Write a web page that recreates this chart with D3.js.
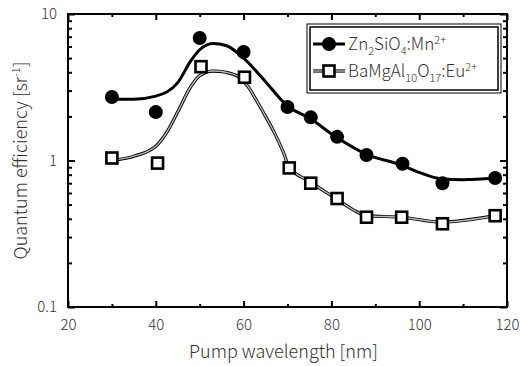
<!DOCTYPE html>
<html>
<head>
<meta charset="utf-8">
<script src="https://cdn.jsdelivr.net/npm/d3@7"></script>
<style>
  body { margin: 0; background: #fff; }
  text { font-family: "Noto Sans CJK JP", "DejaVu Sans", sans-serif; font-weight: 300; fill: #333; }
</style>
</head>
<body>
<div id="chart"></div>
<script>
// data
var znX = [30, 40, 50, 60, 70, 75.3, 81.3, 88, 96.2, 105.3, 117.3];
var znY = [2.71, 2.14, 6.86, 5.5, 2.32, 1.97, 1.45, 1.09, 0.95, 0.70, 0.76];
var baX = [30, 40.4, 50.3, 60.2, 70.4, 75.3, 81.3, 88, 96, 105.3, 117.3];
var baY = [1.04, 0.96, 4.37, 3.70, 0.89, 0.70, 0.55, 0.41, 0.41, 0.37, 0.42];

// fitted curves as drawn in the figure
var znFitX = [30, 35, 40, 45, 48, 50, 53, 56, 60, 65, 70, 75, 81, 88, 96, 100, 105, 110, 117.3];
var znFitY = [2.62, 2.62, 2.75, 3.4, 4.8, 5.7, 6.3, 6.1, 5.0, 3.45, 2.35, 1.95, 1.45, 1.1, 0.93, 0.83, 0.75, 0.74, 0.76];
var baFitX = [30, 35, 40, 43, 45, 48, 50, 53, 56, 59, 61, 63, 65, 67, 69, 70.4, 75, 81, 85, 88, 96, 105, 117.3];
var baFitY = [1.0, 1.07, 1.25, 1.65, 2.15, 3.2, 3.8, 4.08, 4.0, 3.7, 3.2, 2.55, 2.0, 1.55, 1.15, 0.9, 0.72, 0.55, 0.46, 0.42, 0.41, 0.38, 0.42];

var xTicks = [20, 40, 60, 80, 100, 120];
var xMinor = [30, 50, 70, 90, 110];
var yTicks = [0.1, 1, 10];

var svgWidth = 520, svgHeight = 366;
var margin = { top: 14, right: 13, bottom: 59, left: 68 };
var width = svgWidth - margin.left - margin.right;
var height = svgHeight - margin.top - margin.bottom;

var svg = d3.select("#chart").append("svg")
    .attr("width", svgWidth)
    .attr("height", svgHeight);

var g = svg.append("g")
    .attr("transform", `translate(${margin.left}, ${margin.top})`);

var x = d3.scaleLinear().domain([20, 120]).range([0, width]);
var y = d3.scaleLog().domain([0.1, 10]).range([height, 0]);

// minor log ticks
var yMinor = [];
[0.1, 1].forEach(function (d) {
    for (var k = 2; k <= 9; k++) yMinor.push(d * k);
});

function styleAxis(sel) {
    sel.select(".domain").remove();
    sel.selectAll("line").attr("stroke", "#000").attr("stroke-width", 2);
}

// bottom / top
g.append("g").attr("transform", `translate(0, ${height})`)
    .call(d3.axisBottom(x).tickValues(xTicks).tickSize(-6).tickPadding(12).tickFormat(d3.format("d")))
    .call(styleAxis)
    .selectAll("text").attr("font-size", 15).attr("fill", "#444");
g.append("g").attr("transform", `translate(0, ${height})`)
    .call(d3.axisBottom(x).tickValues(xMinor).tickSize(-3).tickFormat(""))
    .call(styleAxis);
g.append("g")
    .call(d3.axisTop(x).tickValues(xTicks).tickSize(-6).tickFormat(""))
    .call(styleAxis);
g.append("g")
    .call(d3.axisTop(x).tickValues(xMinor).tickSize(-3).tickFormat(""))
    .call(styleAxis);

// left / right
g.append("g")
    .call(d3.axisLeft(y).tickValues(yTicks).tickSize(-7).tickPadding(11).tickFormat(d => d === 0.1 ? "0.1" : d3.format("d")(d)))
    .call(styleAxis)
    .selectAll("text").attr("font-size", 15).attr("fill", "#444");
g.append("g")
    .call(d3.axisLeft(y).tickValues(yMinor).tickSize(-4).tickFormat(""))
    .call(styleAxis);
g.append("g").attr("transform", `translate(${width}, 0)`)
    .call(d3.axisRight(y).tickValues(yTicks).tickSize(-7).tickFormat(""))
    .call(styleAxis);
g.append("g").attr("transform", `translate(${width}, 0)`)
    .call(d3.axisRight(y).tickValues(yMinor).tickSize(-4).tickFormat(""))
    .call(styleAxis);

// frame
g.append("rect")
    .attr("width", width).attr("height", height)
    .attr("fill", "none").attr("stroke", "#000").attr("stroke-width", 2);

// fit curves
var line = d3.line()
    .x(d => x(d[0]))
    .y(d => y(d[1]))
    .curve(d3.curveMonotoneX);

var znFit = znFitX.map((d, i) => [d, znFitY[i]]);
var baFit = baFitX.map((d, i) => [d, baFitY[i]]);

g.append("path").datum(baFit)
    .attr("d", line).attr("fill", "none")
    .attr("stroke", "#000").attr("stroke-width", 3.2);
g.append("path").datum(baFit)
    .attr("d", line).attr("fill", "none")
    .attr("stroke", "#bbb").attr("stroke-width", 1.4);

g.append("path").datum(znFit)
    .attr("d", line).attr("fill", "none")
    .attr("stroke", "#000").attr("stroke-width", 3);

// markers
g.selectAll(".zn").data(znX).enter().append("circle")
    .attr("cx", d => x(d))
    .attr("cy", (d, i) => y(znY[i]))
    .attr("r", 7)
    .attr("fill", "#000");

g.selectAll(".ba").data(baX).enter().append("rect")
    .attr("x", d => x(d) - 5.5)
    .attr("y", (d, i) => y(baY[i]) - 5.5)
    .attr("width", 11).attr("height", 11)
    .attr("fill", "#fff")
    .attr("stroke", "#000").attr("stroke-width", 2.6);

// legend
var leg = svg.append("g").attr("transform", "translate(307, 24)");
leg.append("rect").attr("width", 194).attr("height", 69)
    .attr("fill", "#fff").attr("stroke", "#000").attr("stroke-width", 1);
leg.append("rect").attr("x", 3).attr("y", 3).attr("width", 188).attr("height", 63)
    .attr("fill", "none").attr("stroke", "#000").attr("stroke-width", 1.5);

leg.append("line").attr("x1", 6).attr("x2", 38).attr("y1", 20).attr("y2", 20)
    .attr("stroke", "#000").attr("stroke-width", 3);
leg.append("circle").attr("cx", 22).attr("cy", 20).attr("r", 7).attr("fill", "#000");

leg.append("line").attr("x1", 6).attr("x2", 38).attr("y1", 47).attr("y2", 47)
    .attr("stroke", "#000").attr("stroke-width", 3.2);
leg.append("line").attr("x1", 6).attr("x2", 38).attr("y1", 47).attr("y2", 47)
    .attr("stroke", "#bbb").attr("stroke-width", 1.4);
leg.append("rect").attr("x", 16.5).attr("y", 41.5).attr("width", 11).attr("height", 11)
    .attr("fill", "#fff").attr("stroke", "#000").attr("stroke-width", 2.6);

function chem(parent, yPos, parts) {
    var t = parent.append("text").attr("x", 41).attr("y", yPos).attr("font-size", 17).attr("fill", "#333");
    parts.forEach(function (p) {
        var s = t.append("tspan").text(p[0]);
        if (p[1] === "sub") s.attr("font-size", 11).attr("dy", 5);
        else if (p[1] === "sup") s.attr("font-size", 11).attr("dy", -6);
        else if (p[1] === "subEnd") s.attr("dy", -5);
    });
}
chem(leg, 26, [["Zn"], ["2", "sub"], ["SiO", "subEnd"], ["4", "sub"], [":Mn", "subEnd"], ["2+", "sup"]]);
chem(leg, 53, [["BaMgAl"], ["10", "sub"], ["O", "subEnd"], ["17", "sub"], [":Eu", "subEnd"], ["2+", "sup"]]);

// axis titles
svg.append("text")
    .attr("x", margin.left + width / 2 - 4)
    .attr("y", 358)
    .attr("text-anchor", "middle")
    .attr("font-size", 18)
    .text("Pump wavelength [nm]");

svg.append("text")
    .attr("transform", `translate(27, ${margin.top + height / 2}) rotate(-90)`)
    .attr("text-anchor", "middle")
    .attr("font-size", 18)
    .text("Quantum efficiency [sr")
    .append("tspan").attr("font-size", 11).attr("dy", -7).text("-1")
    .select(function () { return this.parentNode; })
    .append("tspan").attr("dy", 7).attr("font-size", 18).text("]");
</script>
</body>
</html>
